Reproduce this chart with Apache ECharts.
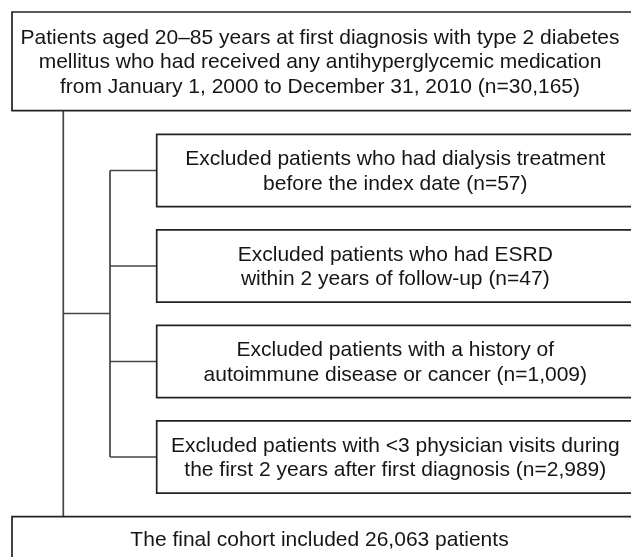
<!DOCTYPE html>
<html>
<head>
<meta charset="utf-8">
<script src="https://cdn.jsdelivr.net/npm/echarts@6/dist/echarts.min.js"></script>
<style>
  html, body { margin: 0; padding: 0; background: #fff; }
  #chart { width: 631px; height: 557px; }
</style>
</head>
<body>
<div id="chart"></div>
<script>
// flowchart content
const startLines = [
  "Patients aged 20–85 years at first diagnosis with type 2 diabetes",
  "mellitus who had received any antihyperglycemic medication",
  "from January 1, 2000 to December 31, 2010"
];
const startN = 30165;
const exclusionText = [
  "Excluded patients who had dialysis treatment\nbefore the index date",
  "Excluded patients who had ESRD\nwithin 2 years of follow-up",
  "Excluded patients with a history of\nautoimmune disease or cancer",
  "Excluded patients with <3 physician visits during\nthe first 2 years after first diagnosis"
];
const exclusionN = [57, 47, 1009, 2989];
const finalN = 26063;

const fmt = n => n.toLocaleString("en-US");

// layout (pixels, same units as the hidden axes)
const W = 631, H = 557;
const trunkX = 63.3, branchX = 110, boxLeft = 12, subLeft = 156.7, rightEdge = 660;
const topBox = [12, 110.7];
const subTop = 134.3, subH = 72.4, subStep = 95.5;
const finalTop = 516.7, finalBottom = 561;

const boxTexts = [
  startLines.join("\n") + " (n=" + fmt(startN) + ")"
].concat(exclusionText.map((t, i) => t + " (n=" + fmt(exclusionN[i]) + ")"))
 .concat(["The final cohort included " + fmt(finalN) + " patients"]);

// [x1, y1, x2, y2, textCenterX]
const boxData = [[boxLeft, topBox[0], rightEdge, topBox[1], 320]];
exclusionText.forEach((t, i) => {
  const y = subTop + i * subStep;
  boxData.push([subLeft, y, rightEdge, y + subH, 395.3]);
});
boxData.push([boxLeft, finalTop, rightEdge, finalBottom, 319.5]);

const subMid = i => subTop + i * subStep + subH / 2;
const branchY = 313.5;
const segData = [
  [trunkX, topBox[1], trunkX, finalTop],
  [trunkX, branchY, branchX, branchY],
  [branchX, subMid(0), branchX, subMid(exclusionText.length - 1)]
];
exclusionText.forEach((t, i) => segData.push([branchX, subMid(i), subLeft, subMid(i)]));

const chart = echarts.init(document.getElementById("chart"), null, { renderer: "canvas" });
chart.setOption({
  animation: false,
  grid: { left: 0, right: 0, top: 0, bottom: 0 },
  xAxis: { type: "value", min: 0, max: W, show: false },
  yAxis: { type: "value", min: 0, max: H, inverse: true, show: false },
  series: [
    {
      type: "custom",
      clip: false,
      data: segData,
      renderItem(params, api) {
        const a = api.coord([api.value(0), api.value(1)]);
        const b = api.coord([api.value(2), api.value(3)]);
        return {
          type: "line",
          shape: { x1: a[0], y1: a[1], x2: b[0], y2: b[1] },
          style: { stroke: "#454545", lineWidth: 1.7 }
        };
      }
    },
    {
      type: "custom",
      clip: false,
      data: boxData,
      renderItem(params, api) {
        const a = api.coord([api.value(0), api.value(1)]);
        const b = api.coord([api.value(2), api.value(3)]);
        const tx = api.coord([api.value(4), 0])[0];
        return {
          type: "group",
          children: [
            {
              type: "rect",
              shape: { x: a[0], y: a[1], width: b[0] - a[0], height: b[1] - a[1] },
              style: { fill: "#fff", stroke: "#222", lineWidth: 1.7 }
            },
            {
              type: "text",
              x: tx,
              y: (a[1] + b[1]) / 2 + 1,
              style: {
                text: boxTexts[params.dataIndex],
                font: '21px "Liberation Sans", Arial, sans-serif',
                fill: "#151515",
                align: "center",
                verticalAlign: "middle",
                lineHeight: 24.5
              }
            }
          ]
        };
      }
    }
  ]
});
</script>
</body>
</html>
